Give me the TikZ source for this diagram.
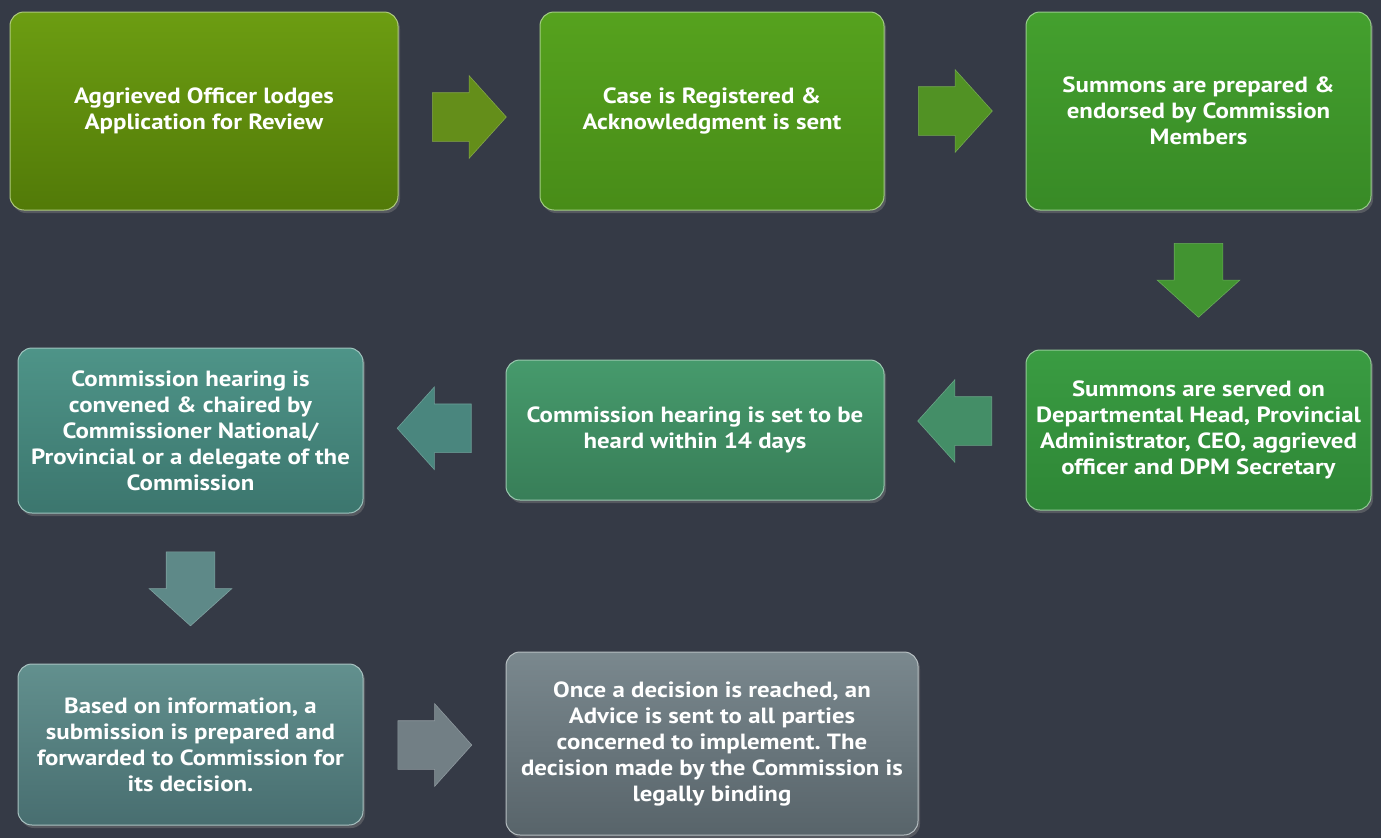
\documentclass[tikz,border=0pt]{standalone}
\usepackage{fontspec}
\setmainfont[FakeStretch=1.13]{PT Sans}
\frenchspacing
\usetikzlibrary{shapes.arrows,shadows,calc}
\definecolor{slate}{RGB}{53, 58, 70}
\definecolor{oliveA}{RGB}{108, 157, 18}
\definecolor{oliveB}{RGB}{82, 122, 8}
\definecolor{leafA}{RGB}{86, 162, 30}
\definecolor{leafB}{RGB}{72, 140, 24}
\definecolor{grassA}{RGB}{68, 160, 46}
\definecolor{grassB}{RGB}{56, 138, 38}
\definecolor{forestA}{RGB}{58, 156, 66}
\definecolor{forestB}{RGB}{46, 134, 54}
\definecolor{jadeA}{RGB}{70, 154, 108}
\definecolor{jadeB}{RGB}{56, 126, 88}
\definecolor{tealA}{RGB}{78, 148, 136}
\definecolor{tealB}{RGB}{60, 118, 110}
\definecolor{seaA}{RGB}{98, 144, 142}
\definecolor{seaB}{RGB}{72, 110, 112}
\definecolor{steelA}{RGB}{122, 136, 142}
\definecolor{steelB}{RGB}{88, 100, 106}
\tikzset{
  stage/.style={rounded corners=14pt, inner sep=4pt, align=center, text=white,
                font=\fontsize{22}{26}\selectfont\bfseries, draw=#1A!55!white, line width=1pt,
                top color=#1A, bottom color=#1B,
                drop shadow={shadow xshift=2pt, shadow yshift=-3pt, opacity=0.45}},
  flow/.style={single arrow, single arrow head extend=17pt, single arrow tip angle=96,
               minimum height=74pt, inner sep=24pt, anchor=tail,
               fill=#1, draw=#1!80!white, line width=0.6pt}
}
\begin{document}
\begin{tikzpicture}[x=1pt, y=-1pt]
  \fill[slate] (0,0) rectangle (1381,838);
  % top row
  \node[stage=olive,  minimum width=388pt, minimum height=198pt] (lodge)  at ( 204.0, 111.0) {Aggrieved Officer lodges\\Application for Review};
  \node[stage=leaf,   minimum width=344pt, minimum height=198pt] (regist) at ( 712.0, 111.0) {Case is Registered \&\\Acknowledgment is sent};
  \node[stage=grass,  minimum width=345pt, minimum height=198pt] (prepar) at (1198.5, 111.0) {Summons are prepared \&\\endorsed by Commission\\Members};
  % middle row
  \node[stage=forest, minimum width=345pt, minimum height=160pt] (served) at (1198.5, 430.0) {Summons are served on\\Departmental Head, Provincial\\Administrator, CEO, aggrieved\\officer and DPM Secretary};
  \node[stage=jade,   minimum width=378pt, minimum height=140pt] (setday) at ( 695.0, 430.0) {Commission hearing is set to be\\heard within 14 days};
  \node[stage=teal,   minimum width=345pt, minimum height=165pt] (convene) at ( 190.5, 430.5) {Commission hearing is\\convened \& chaired by\\Commissioner National/\\Provincial or a delegate of the\\Commission};
  % bottom row
  \node[stage=sea,    minimum width=345pt, minimum height=161pt] (submit) at ( 190.5, 744.5) {Based on information, a\\submission is prepared and\\forwarded to Commission for\\its decision.};
  \node[stage=steel,  minimum width=412pt, minimum height=183pt] (advice) at ( 712.0, 743.5) {Once a decision is reached, an\\Advice is sent to all parties\\concerned to implement. The\\decision made by the Commission is\\legally binding};
  % block arrows, placed by their tails
  \node[flow=oliveA!85!slate]                           (go1) at ($(lodge.east)!0.5!(regist.west)+(-37,6)$) {};
  \node[flow=leafA!85!slate]                            (go2) at ($(regist.east)!0.5!(prepar.west)+(-37,0)$) {};
  \node[flow=grassA!88!slate, shape border rotate=270]  (go3) at ($(prepar.south)!0.5!(served.north)+(0,-37)$) {};
  \node[flow=jadeA!88!slate, shape border rotate=180]   (go4) at ($(served.west)!0.5!(setday.east)+(37,-9)$) {};
  \node[flow=tealA!85!slate, shape border rotate=180]   (go5) at ($(setday.west)!0.5!(convene.east)+(37,-2)$) {};
  \node[flow=seaA!92!slate, shape border rotate=270]    (go6) at ($(convene.south)!0.5!(submit.north)+(0,-37)$) {};
  \node[flow=steelA!88!slate]                           (go7) at ($(submit.east)!0.5!(advice.west)+(-37,1)$) {};
\end{tikzpicture}
\end{document}
